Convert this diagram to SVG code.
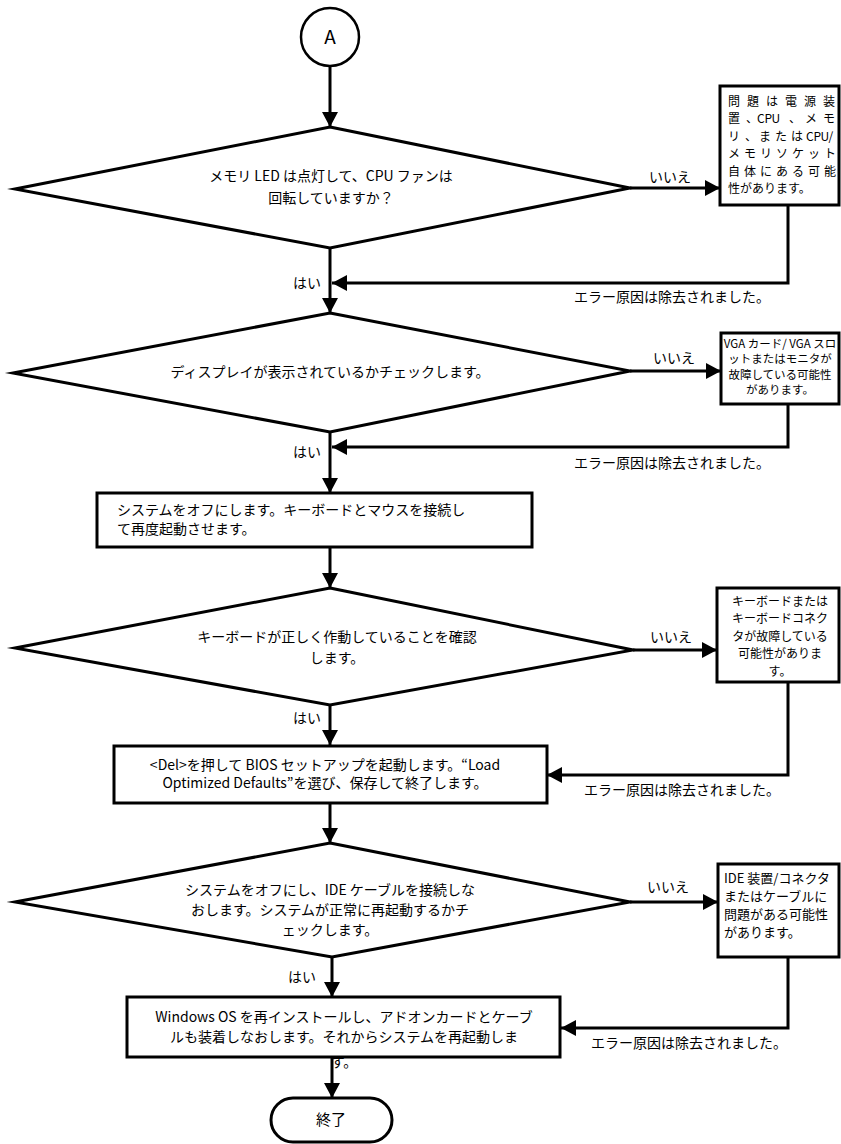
<svg xmlns="http://www.w3.org/2000/svg" width="841" height="1144" viewBox="0 0 841 1144">
<defs>
<style>
text{font-family:"Noto Sans CJK JP","Liberation Sans",sans-serif;fill:#000}
.t{font-size:14px}
.c{text-anchor:middle}
.s12{font-size:12px}
.s11{font-size:11.5px}
.s13{font-size:13px}
.shape{fill:#fff;stroke:#000;stroke-width:3;stroke-linejoin:miter;stroke-miterlimit:10}
.line{fill:none;stroke:#000;stroke-width:3}
</style>
<marker id="ah" viewBox="0 0 15 16" refX="15" refY="8" markerWidth="15" markerHeight="16" markerUnits="userSpaceOnUse" orient="auto">
<path d="M0,0 L15,8 L0,16 Z" fill="#000"/>
</marker>
</defs>
<rect width="841" height="1144" fill="#fff"/>

<g id="connectors">
<path class="line" d="M330,67 V127" marker-end="url(#ah)"/>
<path class="line" d="M330,248 V313" marker-end="url(#ah)"/>
<path class="line" d="M330,432 V493" marker-end="url(#ah)"/>
<path class="line" d="M330,547 V588" marker-end="url(#ah)"/>
<path class="line" d="M330,705 V745" marker-end="url(#ah)"/>
<path class="line" d="M330,803 V843" marker-end="url(#ah)"/>
<path class="line" d="M332,957 V997" marker-end="url(#ah)"/>
<path class="line" d="M332,1057 V1098" marker-end="url(#ah)"/>
<path class="line" d="M630,188 H720" marker-end="url(#ah)"/>
<path class="line" d="M788,205 V283 H332" marker-end="url(#ah)"/>
<path class="line" d="M630,371 H721" marker-end="url(#ah)"/>
<path class="line" d="M788,404 V447 H332" marker-end="url(#ah)"/>
<path class="line" d="M633,650 H717" marker-end="url(#ah)"/>
<path class="line" d="M788,682 V775 H547" marker-end="url(#ah)"/>
<path class="line" d="M630,902 H718" marker-end="url(#ah)"/>
<path class="line" d="M788,957 V1028 H561" marker-end="url(#ah)"/>
<text class="t c" x="670" y="182">いいえ</text>
<text class="t c" x="674" y="363">いいえ</text>
<text class="t c" x="671" y="642">いいえ</text>
<text class="t c" x="668" y="892">いいえ</text>
<text class="t c" x="307" y="288">はい</text>
<text class="t c" x="307" y="457">はい</text>
<text class="t c" x="307" y="723">はい</text>
<text class="t c" x="302" y="982">はい</text>
<text class="t c" x="672" y="302">エラー原因は除去されました。</text>
<text class="t c" x="672" y="468">エラー原因は除去されました。</text>
<text class="t c" x="682" y="795">エラー原因は除去されました。</text>
<text class="t c" x="689" y="1048">エラー原因は除去されました。</text>
</g>

<g id="start">
<circle cx="330" cy="37" r="29" fill="#fff" stroke="#000" stroke-width="2.5"/>
<text class="c" x="330" y="44" font-size="19">A</text>
</g>

<g id="d1">
<polygon class="shape" points="330,127 630,188 330,248 15,189"/>
<text class="t c" x="331" y="181">メモリ LED は点灯して、CPU ファンは</text>
<text class="t c" x="331" y="203">回転していますか？</text>
</g>

<g id="b1">
<rect class="shape" x="720" y="86" width="119" height="119"/>
<text class="s12" x="728 747 766 785 804 823" y="106">問題は電源装</text>
<text class="s12" x="728 746 757 764.5 771.5 789 805 823" y="123">置、CPU、メモ</text>
<text class="s12" x="728 745 759 775 791 806 813.5 820.5 828.5" y="141">リ、またはCPU/</text>
<text class="s12" x="728 744 760 776 792 808 824" y="158">メモリソケット</text>
<text class="s12" x="728 744 760 776 792 808 824" y="176">自体にある可能</text>
<text class="s12" x="728" y="193">性があります。</text>
</g>

<g id="d2">
<polygon class="shape" points="330,313 630,371 330,432 13,373"/>
<text class="t c" x="330" y="377">ディスプレイが表示されているかチェックします。</text>
</g>

<g id="b2">
<rect class="shape" x="721" y="333" width="118" height="71"/>
<text class="s11 c" x="780" y="348">VGA カード/ VGA スロ</text>
<text class="s11 c" x="780" y="363">ットまたはモニタが</text>
<text class="s11 c" x="780" y="379">故障している可能性</text>
<text class="s11 c" x="780" y="394">があります。</text>
</g>

<g id="b3">
<rect class="shape" x="97" y="493" width="435" height="54"/>
<text class="t" x="117" y="515">システムをオフにします。キーボードとマウスを接続し</text>
<text class="t" x="117" y="534">て再度起動させます。</text>
</g>

<g id="d3">
<polygon class="shape" points="330,588 633,650 330,705 15,648"/>
<text class="t c" x="337" y="642">キーボードが正しく作動していることを確認</text>
<text class="t c" x="337" y="663">します。</text>
</g>

<g id="b4">
<rect class="shape" x="717" y="588" width="122" height="94"/>
<text class="s12 c" x="780" y="606">キーボードまたは</text>
<text class="s12 c" x="780" y="623">キーボードコネク</text>
<text class="s12 c" x="780" y="641">タが故障している</text>
<text class="s12 c" x="780" y="658">可能性がありま</text>
<text class="s12 c" x="780" y="676">す。</text>
</g>

<g id="b5">
<rect class="shape" x="114" y="746" width="433" height="57"/>
<text class="t c" x="325" y="770">&lt;Del&gt;を押して BIOS セットアップを起動します。“Load</text>
<text class="t c" x="325" y="788">Optimized Defaults”を選び、保存して終了します。</text>
</g>

<g id="d4">
<polygon class="shape" points="330,843 630,902 332,957 15,902"/>
<text class="t c" x="330" y="895">システムをオフにし、IDE ケーブルを接続しな</text>
<text class="t c" x="330" y="915">おします。システムが正常に再起動するかチ</text>
<text class="t c" x="330" y="935">ェックします。</text>
</g>

<g id="b6">
<rect class="shape" x="718" y="864" width="121" height="93"/>
<text class="s13" x="724" y="883">IDE 装置/コネクタ</text>
<text class="s13" x="724" y="901">またはケーブルに</text>
<text class="s13" x="724" y="919">問題がある可能性</text>
<text class="s13" x="724" y="937">があります。</text>
</g>

<g id="b7">
<text class="t c" x="344" y="1067">す。</text>
<rect class="shape" x="127" y="997" width="433" height="60"/>
<text class="t c" x="344" y="1022">Windows OS を再インストールし、アドオンカードとケーブ</text>
<text class="t c" x="344" y="1042">ルも装着しなおします。それからシステムを再起動しま</text>
</g>

<g id="end">
<rect class="shape" x="271" y="1098" width="121" height="44" rx="22" ry="22"/>
<text class="c" x="331" y="1125" font-size="15">終了</text>
</g>
</svg>
